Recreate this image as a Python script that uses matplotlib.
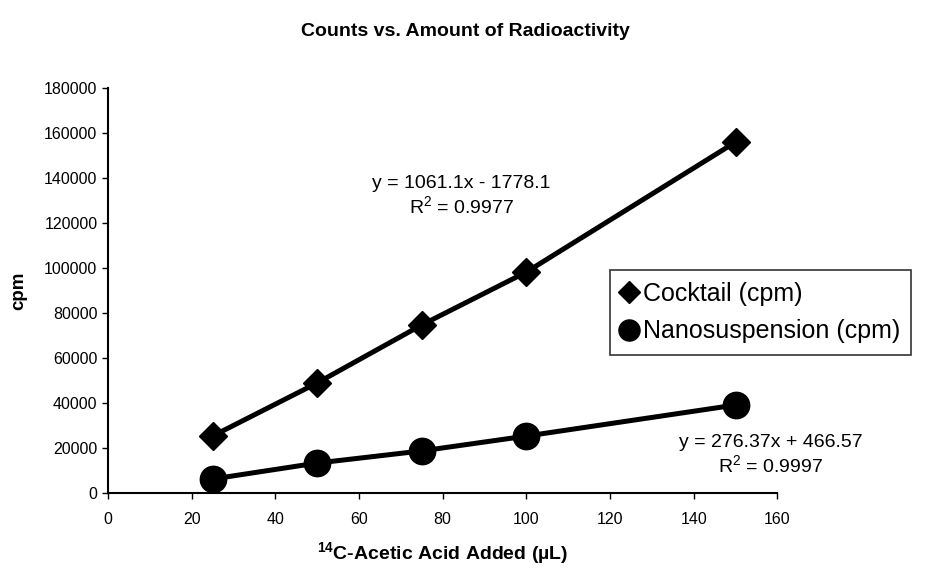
import matplotlib
matplotlib.use('Agg')
import matplotlib.pyplot as plt

plt.rcParams['font.family'] = ['Liberation Sans', 'DejaVu Sans']
plt.rcParams['mathtext.default'] = 'regular'

# data
volume_ul = [25, 50, 75, 100, 150]
cocktail_cpm = [25300, 48900, 74700, 98200, 156000]
nano_cpm = [6200, 13300, 18700, 25300, 39100]

cocktail_eq = 'y = 1061.1x - 1778.1\nR$^2$ = 0.9977'
nano_eq = 'y = 276.37x + 466.57\nR$^2$ = 0.9997'

x_ticks = list(range(0, 161, 20))
y_ticks = list(range(0, 180001, 20000))

fig = plt.figure(figsize=(9.3, 5.81), dpi=100)
ax = fig.add_axes([0.116, 0.1515, 0.72, 0.697])

ax.plot(volume_ul, cocktail_cpm, color='black', lw=3.6, marker='D', ms=14,
        label='Cocktail (cpm)')
ax.plot(volume_ul, nano_cpm, color='black', lw=3.6, marker='o', ms=19,
        label='Nanosuspension (cpm)')

ax.set_xlim(0, 160)
ax.set_ylim(0, 180000)
ax.set_xticks(x_ticks)
ax.set_yticks(y_ticks)
ax.tick_params(labelsize=11.5, length=4, width=1)
ax.tick_params(axis='x', pad=10)
for side in ['top', 'right']:
    ax.spines[side].set_visible(False)
for side in ['left', 'bottom']:
    ax.spines[side].set_linewidth(1.5)

ax.set_xlabel('$^{14}$C-Acetic Acid Added (µL)', fontsize=14, fontweight='bold', labelpad=9)
ax.set_ylabel('cpm', fontsize=13.5, fontweight='bold', labelpad=12)
fig.suptitle('Counts vs. Amount of Radioactivity', x=0.5, y=0.96,
             fontsize=14, fontweight='bold')

fig.text(0.496, 0.663, cocktail_eq, ha='center', va='center', fontsize=14,
         linespacing=1.2)
fig.text(0.829, 0.217, nano_eq, ha='center', va='center', fontsize=14,
         linespacing=1.2)

leg = ax.legend(loc='center', bbox_to_anchor=(0.818, 0.462), bbox_transform=fig.transFigure,
                fontsize=18, frameon=True, fancybox=False, edgecolor='black',
                handlelength=0.6, handletextpad=0.25, borderpad=0.45, labelspacing=0.55,
                markerscale=0.8)
leg.get_frame().set_linewidth(1.2)
for h in leg.legend_handles:
    h.set_linestyle('none')

fig.savefig('out.png', dpi=100)
